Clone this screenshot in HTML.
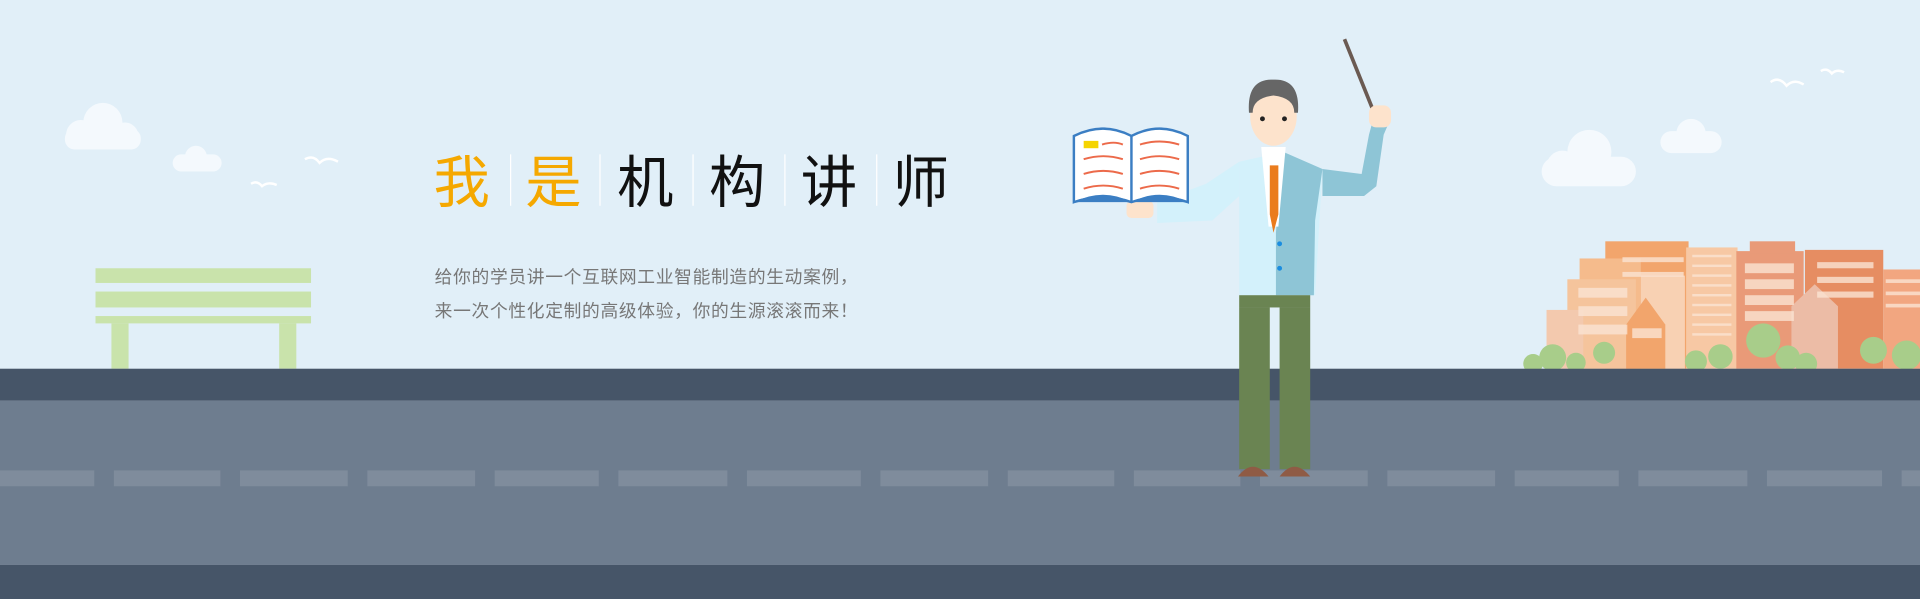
<!DOCTYPE html>
<html><head><meta charset="utf-8"><style>
html,body{margin:0;padding:0;width:1920px;height:599px;overflow:hidden;background:#e1eff8}
svg{display:block}
</style></head><body>
<svg width="1920" height="599" viewBox="0 0 1568 489" preserveAspectRatio="none" xmlns="http://www.w3.org/2000/svg">
<rect x="0" y="0" width="1568" height="301" fill="#e1eff8"/>
<g fill="#f4f9fd">
<circle cx="84" cy="100" r="16"/><circle cx="66" cy="110" r="12"/><circle cx="102" cy="111" r="11"/><rect x="53" y="105" width="62" height="17" rx="8"/>
<circle cx="160" cy="128" r="9"/><rect x="141" y="126" width="40" height="14" rx="7"/>
<circle cx="1298" cy="124" r="18"/><circle cx="1276" cy="136" r="13"/><rect x="1259" y="128" width="77" height="24" rx="12"/>
<circle cx="1381" cy="109" r="12"/><rect x="1356" y="107" width="50" height="18" rx="9"/>
</g>
<g fill="none" stroke="#fff" stroke-width="2">
<path d="M249 130 q7 -4 12 3 q6 -6 15 -1"/><path d="M205 150 q5 -3 9 2 q5 -4 12 -1"/>
<path d="M1446 67 q7 -5 13 3 q6 -6 14 -1"/><path d="M1487 58 q5 -3 9 2 q4 -4 10 -1"/>
</g>
<g fill="#c9e3ab">
<rect x="78" y="219" width="176" height="12"/><rect x="78" y="238" width="176" height="13"/><rect x="78" y="258" width="176" height="6"/>
<rect x="91" y="264" width="14" height="37"/><rect x="228" y="264" width="14" height="37"/>
</g>
<g font-family="'Liberation Sans','Noto Sans CJK SC',sans-serif" font-size="46">
<text x="354" y="165" fill="#f5a800">我</text>
<text x="429" y="165" fill="#f5a800">是</text>
<text x="504" y="165" fill="#111">机</text>
<text x="579" y="165" fill="#111">构</text>
<text x="654" y="165" fill="#111">讲</text>
<text x="729" y="165" fill="#111">师</text>
</g>
<g stroke="#fff" stroke-width="1">
<line x1="417" y1="126" x2="417" y2="168"/><line x1="490" y1="126" x2="490" y2="168"/><line x1="566" y1="126" x2="566" y2="168"/><line x1="641" y1="126" x2="641" y2="168"/><line x1="716" y1="126" x2="716" y2="168"/>
</g>
<g font-family="'Liberation Sans','Noto Sans CJK SC',sans-serif" font-size="14.5" letter-spacing="0.55" fill="#777">
<text x="355" y="231">给你的学员讲一个互联网工业智能制造的生动案例，</text>
<text x="355" y="259">来一次个性化定制的高级体验，你的生源滚滚而来！</text>
</g>
<g>
<rect x="1311" y="197" width="68" height="104" fill="#f2a56c"/>
<rect x="1290" y="211" width="50" height="90" fill="#f5bb8c"/>
<rect x="1280" y="228" width="56" height="73" fill="#f5c49c"/>
<rect x="1377" y="202" width="42" height="99" fill="#f7c8a4"/>
<rect x="1418" y="205" width="55" height="96" fill="#e99a78"/>
<rect x="1429" y="197" width="37" height="10" fill="#e99a78"/>
<rect x="1474" y="204" width="64" height="97" fill="#e68d62"/>
<rect x="1538" y="220" width="30" height="81" fill="#f2a680"/>
<rect x="1340" y="225" width="36" height="76" fill="#f8d1b3"/>
<polygon points="1328,265 1344,243 1360,265 1360,301 1328,301" fill="#f2a56c"/>
<polygon points="1463,250 1482,232 1501,250 1501,301 1463,301" fill="#ecbca6"/>
<rect x="1263" y="253" width="30" height="48" fill="#f3c9ae"/>
<g fill="#fbe4d3" opacity="0.8">
<rect x="1325" y="210" width="50" height="4"/><rect x="1325" y="222" width="50" height="4"/><rect x="1382" y="208" width="32" height="2"/><rect x="1382" y="216" width="32" height="2"/><rect x="1382" y="224" width="32" height="2"/><rect x="1382" y="232" width="32" height="2"/><rect x="1382" y="240" width="32" height="2"/><rect x="1382" y="248" width="32" height="2"/><rect x="1382" y="256" width="32" height="2"/><rect x="1382" y="264" width="32" height="2"/><rect x="1382" y="272" width="32" height="2"/>
<rect x="1425" y="215" width="40" height="8"/><rect x="1425" y="228" width="40" height="8"/><rect x="1425" y="241" width="40" height="8"/><rect x="1425" y="254" width="40" height="8"/>
<rect x="1484" y="214" width="46" height="5"/><rect x="1484" y="226" width="46" height="5"/><rect x="1484" y="238" width="46" height="5"/><rect x="1540" y="228" width="28" height="3"/><rect x="1540" y="238" width="28" height="3"/><rect x="1540" y="248" width="28" height="3"/>
<rect x="1289" y="235" width="40" height="8"/><rect x="1289" y="250" width="40" height="8"/><rect x="1289" y="265" width="40" height="8"/><rect x="1333" y="268" width="24" height="8"/>
</g>
<g fill="#a8cd8a"><circle cx="1268" cy="292" r="11"/><circle cx="1252" cy="297" r="8"/><circle cx="1287" cy="296" r="8"/><circle cx="1310" cy="288" r="9"/><circle cx="1385" cy="295" r="9"/><circle cx="1405" cy="291" r="10"/><circle cx="1440" cy="278" r="14"/><circle cx="1460" cy="292" r="10"/><circle cx="1475" cy="297" r="9"/><circle cx="1530" cy="286" r="11"/><circle cx="1557" cy="290" r="12"/></g>
</g>
<rect x="0" y="301" width="1568" height="26" fill="#465568"/>
<rect x="0" y="327" width="1568" height="134" fill="#6e7d8f"/>
<g fill="#7f8c9c">
<rect x="0" y="384" width="77" height="13"/><rect x="93" y="384" width="87" height="13"/><rect x="196" y="384" width="88" height="13"/><rect x="300" y="384" width="88" height="13"/><rect x="404" y="384" width="85" height="13"/><rect x="505" y="384" width="89" height="13"/><rect x="610" y="384" width="93" height="13"/><rect x="719" y="384" width="88" height="13"/><rect x="823" y="384" width="87" height="13"/><rect x="926" y="384" width="87" height="13"/><rect x="1029" y="384" width="88" height="13"/><rect x="1133" y="384" width="88" height="13"/><rect x="1237" y="384" width="85" height="13"/><rect x="1338" y="384" width="89" height="13"/><rect x="1443" y="384" width="94" height="13"/><rect x="1553" y="384" width="15" height="13"/>
</g>
<rect x="0" y="461" width="1568" height="28" fill="#465568"/>
<g>
<line x1="1098" y1="32" x2="1123" y2="94" stroke="#6b5a52" stroke-width="3"/>
<polygon points="1080,138 1112,142 1118,110 1124,88 1136,96 1130,110 1124,152 1114,160 1080,160" fill="#8ec5d6"/>
<rect x="1118" y="86" width="18" height="18" rx="6" fill="#fde3cc"/>
<polygon points="1012,132 1048,124 1080,138 1074,241 1012,241" fill="#d3f1fb"/>
<polygon points="1048,124 1080,138 1074,180 1073,241 1042,241 1042,190" fill="#8ec5d6"/>
<polygon points="1012,132 985,150 945,165 945,182 990,180 1012,160" fill="#d3f1fb"/>
<polygon points="1030,120 1050,120 1044,185 1036,185" fill="#fff"/>
<polygon points="1037,135 1044,135 1044,175 1040,190 1037,175" fill="#ea7c1d"/>
<circle cx="1045" cy="199" r="2" fill="#1a8de0"/><circle cx="1045" cy="219" r="2" fill="#1a8de0"/>
<ellipse cx="1040" cy="95" rx="19" ry="24" fill="#fde3cc"/>
<path d="M1020 92 q-2 -28 20 -27 q22 -1 20 27 l-3 0 q0 -12 -17 -14 q-17 2 -17 14z" fill="#666"/>
<circle cx="1031" cy="97" r="2" fill="#222"/><circle cx="1049" cy="97" r="2" fill="#222"/>
<rect x="1012" y="241" width="58" height="10" fill="#6a8452"/>
<rect x="1012" y="251" width="25" height="132" fill="#6a8452"/><rect x="1045" y="251" width="25" height="132" fill="#6a8452"/>
<path d="M1011 389 q12 -16 25 0z" fill="#8f5b45"/><path d="M1045 389 q12 -16 25 0z" fill="#8f5b45"/>
<rect x="920" y="164" width="22" height="14" rx="4" fill="#fde3cc"/>
</g>
<g>
<path d="M877 111 q24 -12 47 0 q23 -12 46 0 v54 q-23 -8 -46 0 q-23 -8 -47 0z" fill="#fff" stroke="#3b7ec3" stroke-width="2"/>
<line x1="924" y1="111" x2="924" y2="165" stroke="#3b7ec3" stroke-width="2"/>
<g fill="none" stroke="#ec6a4a" stroke-width="1.6"><path d="M885 130 q16 -5 32 0"/><path d="M885 142 q16 -5 32 0"/><path d="M885 154 q16 -5 32 0"/><path d="M931 118 q16 -5 32 0"/><path d="M931 130 q16 -5 32 0"/><path d="M931 142 q16 -5 32 0"/><path d="M931 154 q16 -5 32 0"/><path d="M900 118 q10 -3 17 0"/></g>
<rect x="885" y="115" width="12" height="6" fill="#f5d400"/>
<path d="M877 165 q24 -12 47 0 q23 -12 46 0z" fill="#3b7ec3"/>
</g>
</svg>
</body></html>
